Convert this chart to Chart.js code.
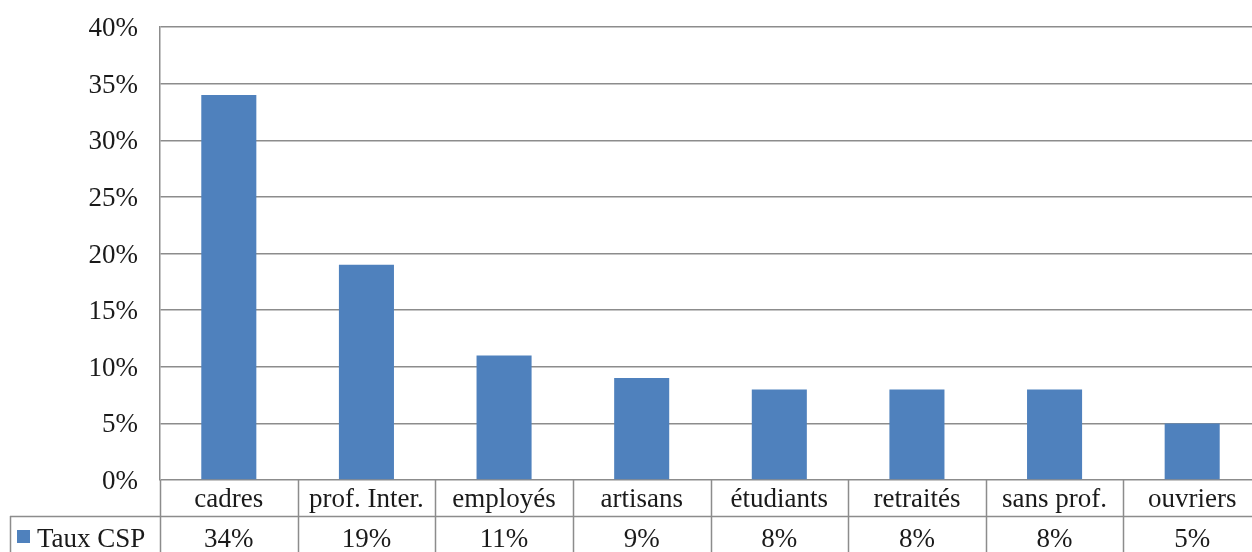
<!DOCTYPE html>
<html>
<head>
<meta charset="utf-8">
<script src="https://cdn.jsdelivr.net/npm/chart.js@4/dist/chart.umd.min.js"></script>
<style>
  html, body { margin: 0; padding: 0; background: #fff; overflow: hidden; }
  #wrap { position: absolute; left: 0; top: 0; width: 1262px; height: 552px; }
</style>
</head>
<body>
<div id="wrap"><canvas id="c"></canvas></div>
<script>
const categories = ['cadres', 'prof. Inter.', 'employés', 'artisans', 'étudiants', 'retraités', 'sans prof.', 'ouvriers'];
const seriesName = 'Taux CSP';
const values = [34, 19, 11, 9, 8, 8, 8, 5];
const valueLabels = ['34%', '19%', '11%', '9%', '8%', '8%', '8%', '5%'];
const yTicks = [0, 5, 10, 15, 20, 25, 30, 35, 40];

const FONT_FAMILY = '"Liberation Serif", "Times New Roman", serif';
const FONT = '27px ' + FONT_FAMILY;
const LINE = '#8c8c8c';
const BLUE = '#4F81BD';

const tablePlugin = {
  id: 'dataTable',
  afterDraw(chart) {
    const ctx = chart.ctx;
    const area = chart.chartArea;
    const x = chart.scales.x;
    const n = categories.length;
    const top = area.bottom;
    const row1 = top + 36;
    const row2 = top + 72;
    const legendLeft = 10;
    const half = (x.getPixelForValue(1) - x.getPixelForValue(0)) / 2;
    ctx.save();
    ctx.strokeStyle = LINE;
    ctx.lineWidth = 1.5;
    ctx.beginPath();
    for (let i = 0; i <= n; i++) {
      const bx = Math.round(x.getPixelForValue(i) - half) + 0.5;
      ctx.moveTo(bx, top);
      ctx.lineTo(bx, row2 + 2);
    }
    ctx.moveTo(legendLeft, Math.round(row1) + 0.5);
    ctx.lineTo(x.getPixelForValue(n - 1) + half, Math.round(row1) + 0.5);
    ctx.moveTo(legendLeft + 0.5, row1);
    ctx.lineTo(legendLeft + 0.5, row2 + 2);
    ctx.stroke();

    ctx.fillStyle = '#1a1a1a';
    ctx.font = FONT;
    ctx.textAlign = 'center';
    ctx.textBaseline = 'alphabetic';
    for (let i = 0; i < n; i++) {
      const cx = x.getPixelForValue(i);
      ctx.fillText(categories[i], cx, top + 27);
      ctx.fillText(valueLabels[i], cx, row1 + 31);
    }
    ctx.fillStyle = BLUE;
    ctx.fillRect(17, row1 + 14, 13, 13);
    ctx.fillStyle = '#1a1a1a';
    ctx.textAlign = 'left';
    ctx.fillText(seriesName, 37, row1 + 31);
    ctx.restore();
  }
};

new Chart(document.getElementById('c'), {
  type: 'bar',
  data: {
    labels: categories,
    datasets: [{
      label: seriesName,
      data: values,
      backgroundColor: BLUE,
      borderWidth: 0,
      barPercentage: 0.4,
      categoryPercentage: 1.0
    }]
  },
  options: {
    responsive: true,
    maintainAspectRatio: false,
    animation: false,
    layout: { padding: { top: 27, bottom: 72, left: 0, right: 1 } },
    plugins: { legend: { display: false }, tooltip: { enabled: false } },
    scales: {
      x: {
        display: false,
        offset: true
      },
      y: {
        min: 0,
        max: 40,
        afterFit(scale) { scale.width = 160; scale.paddingTop = 0; scale.paddingBottom = 0; },
        afterBuildTicks(scale) { scale.ticks = yTicks.map(v => ({ value: v })); },
        grid: { color: LINE, lineWidth: 1.5, drawTicks: false },
        border: { display: true, color: LINE, width: 1.5 },
        ticks: {
          padding: 22,
          labelOffset: 2,
          color: '#1a1a1a',
          font: { family: FONT_FAMILY, size: 27 },
          callback: v => v + '%'
        }
      }
    }
  },
  plugins: [tablePlugin]
});
</script>
</body>
</html>
